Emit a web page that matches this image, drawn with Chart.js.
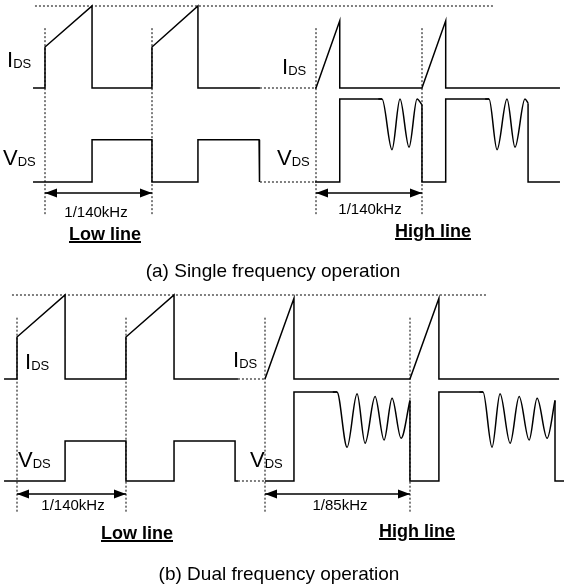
<!DOCTYPE html>
<html>
<head>
<meta charset="utf-8">
<script src="https://cdn.jsdelivr.net/npm/chart.js@4.4.0/dist/chart.umd.min.js"></script>
<style>
  body { margin: 0; background: #fff; }
  #wrap { position: relative; width: 564px; height: 584px; font-family: 'Liberation Sans', Arial, sans-serif; color: #000; }
  #wrap canvas { position: absolute; left: 0; top: 0; }
  .lbl { position: absolute; white-space: nowrap; }
  .lbl .sub { line-height: 0; vertical-align: -1px; }
  .ul { font-weight: bold; text-decoration: underline; text-decoration-thickness: 1.5px; }
</style>
</head>
<body>
<div id="wrap"><canvas id="wave" width="564" height="584"></canvas></div>
<script>
// ── switching periods (µs)
const T140 = 1000 / 140;
const T85  = 1000 / 85;

// ── (a) single frequency, low line  (time µs, amplitude normalised)
const aLowIdsT = [-0.8, 0, 0, 3.14, 3.14, 7.14, 7.14, 10.21, 10.21, 14.35];
const aLowIdsV = [0, 0, 0.5, 1, 0, 0, 0.5, 1, 0, 0];
const aLowVdsT = [-0.8, 3.14, 3.14, 7.14, 7.14, 10.21, 10.21, 14.29, 14.29, 14.35];
const aLowVdsV = [0, 0, 0.51, 0.51, 0, 0, 0.51, 0.51, 0, 0];
const aGapT    = [14.35, 18.0];

// ── (a) single frequency, high line
const aHighIdsT = [-0.07, 0, 1.6, 1.6, 7.14, 8.74, 8.74, 16.44];
const aHighIdsV = [0, 0, 0.82, 0, 0, 0.82, 0, 0];
const aHighVdsT = [-0.07, 1.6, 1.6, 4.45, null, 7.14, 7.14, 8.74, 8.74, 11.66, null, 14.29, 14.29, 16.44];
const aHighVdsV = [0, 0, 1, 1, null, 0.93, 0, 0, 1, 1, null, 0.95, 0, 0];
const aRing1T   = [4.2, 4.45, 5.12, 5.66, 6.27, 6.81, 7.14];
const aRing1V   = [1, 1, 0.39, 1, 0.42, 1, 0.93];
const aRing2T   = [11.4, 11.66, 12.2, 12.87, 13.41, 14.08, 14.29];
const aRing2V   = [1, 1, 0.39, 1, 0.42, 1, 0.95];

// ── (b) dual frequency, low line
const bLowIdsT = [-0.85, 0, 0, 3.15, 3.15, 7.14, 7.14, 10.29, 10.29, 14.48];
const bLowIdsV = [0, 0, 0.5, 1, 0, 0, 0.5, 1, 0, 0];
const bLowVdsT = [-0.85, 3.15, 3.15, 7.14, 7.14, 10.29, 10.29, 14.29, 14.29, 14.48];
const bLowVdsV = [0, 0, 0.45, 0.45, 0, 0, 0.45, 0.45, 0, 0];
const bGapT    = [14.48, 16.25];

// ── (b) dual frequency, high line
const bHighIdsT = [0, 2.35, 2.35, 11.76, 14.11, 14.11, 23.86];
const bHighIdsV = [0, 0.96, 0, 0, 0.96, 0, 0];
const bHighVdsT = [0, 2.35, 2.35, 5.84, null, 11.76, 11.76, 14.11, 14.11, 17.69, null, 23.53, 23.53, 24.3];
const bHighVdsV = [0, 0, 1, 1, null, 0.905, 0, 0, 1, 1, null, 0.905, 0, 0];
const bRing1T   = [5.5, 5.84, 6.66, 7.47, 8.12, 8.93, 9.66, 10.31, 11.04, 11.76];
const bRing2T   = [17.4, 17.69, 18.42, 19.07, 19.89, 20.62, 21.43, 22.08, 22.89, 23.53];
const bRingV    = [1, 1, 0.38, 0.98, 0.425, 0.95, 0.46, 0.93, 0.48, 0.905];

// ── reference lines: peak current, period markers, period arrows
const aPeakT = [-0.67, 29.97];
const bPeakT = [-0.33, 30.8];
const peakV  = [1, 1];
const aMarkV = [0.73, -1.55];
const bMarkV = [0.73, -1.6];
const aArrowV = -0.133;
const bArrowV = -0.146;

// ── layout: where each time / amplitude axis sits on the 564x584 canvas
const W = 564, H = 584;
const xPanels = {
  xaL: { origin: 45,  periodPx: 107, period: T140 },
  xaH: { origin: 316, periodPx: 106, period: T140 },
  xbL: { origin: 17,  periodPx: 109, period: T140 },
  xbH: { origin: 265, periodPx: 145, period: T85 },
};
const yPanels = {
  yaI: { base: 88,  unit: 82 },
  yaV: { base: 182, unit: 83 },
  ybI: { base: 379, unit: 84 },
  ybV: { base: 481, unit: 89 },
};

const scales = {};
Object.entries(xPanels).forEach(([id, p]) => {
  const k = p.periodPx / p.period;
  scales[id] = { type: 'linear', axis: 'x', display: false, min: -p.origin / k, max: (W - p.origin) / k };
});
Object.entries(yPanels).forEach(([id, p]) => {
  scales[id] = { type: 'linear', axis: 'y', display: false, min: -(H - p.base) / p.unit, max: p.base / p.unit };
});

const pts = (ts, vs) => ts.map((t, i) => ({ x: t, y: vs[i] }));
function trace(ts, vs, xAxisID, yAxisID, extra) {
  return Object.assign({
    data: pts(ts, vs), xAxisID, yAxisID, showLine: true, fill: false,
    borderColor: '#000', borderWidth: 1.5, pointRadius: 0, tension: 0,
    spanGaps: false, order: 1,
  }, extra || {});
}
const dotted = { borderWidth: 1, borderDash: [2, 2], order: 2 };
const curve  = { cubicInterpolationMode: 'monotone' };
const arrow  = { arrows: true, borderWidth: 1.5 };

const datasets = [
  // (a)
  trace(aLowIdsT, aLowIdsV, 'xaL', 'yaI'),
  trace(aLowVdsT, aLowVdsV, 'xaL', 'yaV'),
  trace(aGapT, [0, 0], 'xaL', 'yaI', dotted),
  trace(aGapT, [0, 0], 'xaL', 'yaV', dotted),
  trace(aHighIdsT, aHighIdsV, 'xaH', 'yaI'),
  trace(aHighVdsT, aHighVdsV, 'xaH', 'yaV'),
  trace(aRing1T, aRing1V, 'xaH', 'yaV', curve),
  trace(aRing2T, aRing2V, 'xaH', 'yaV', curve),
  trace(aPeakT, peakV, 'xaL', 'yaI', dotted),
  trace([0, 0], aMarkV, 'xaL', 'yaI', dotted),
  trace([T140, T140], aMarkV, 'xaL', 'yaI', dotted),
  trace([0, 0], aMarkV, 'xaH', 'yaI', dotted),
  trace([T140, T140], aMarkV, 'xaH', 'yaI', dotted),
  trace([0, T140], [aArrowV, aArrowV], 'xaL', 'yaV', arrow),
  trace([0, T140], [aArrowV, aArrowV], 'xaH', 'yaV', arrow),
  // (b)
  trace(bLowIdsT, bLowIdsV, 'xbL', 'ybI'),
  trace(bLowVdsT, bLowVdsV, 'xbL', 'ybV'),
  trace(bGapT, [0, 0], 'xbL', 'ybI', dotted),
  trace(bGapT, [0, 0], 'xbL', 'ybV', dotted),
  trace(bHighIdsT, bHighIdsV, 'xbH', 'ybI'),
  trace(bHighVdsT, bHighVdsV, 'xbH', 'ybV'),
  trace(bRing1T, bRingV, 'xbH', 'ybV', curve),
  trace(bRing2T, bRingV, 'xbH', 'ybV', curve),
  trace(bPeakT, peakV, 'xbL', 'ybI', dotted),
  trace([0, 0], bMarkV, 'xbL', 'ybI', dotted),
  trace([T140, T140], bMarkV, 'xbL', 'ybI', dotted),
  trace([0, 0], bMarkV, 'xbH', 'ybI', dotted),
  trace([T85, T85], bMarkV, 'xbH', 'ybI', dotted),
  trace([0, T140], [bArrowV, bArrowV], 'xbL', 'ybV', arrow),
  trace([0, T85], [bArrowV, bArrowV], 'xbH', 'ybV', arrow),
];

// ── filled arrow heads at both ends of the period arrows
function head(ctx, x, y, dir) {
  ctx.beginPath();
  ctx.moveTo(x, y);
  ctx.lineTo(x - dir * 12, y - 4.5);
  ctx.lineTo(x - dir * 12, y + 4.5);
  ctx.closePath();
  ctx.fill();
}
const arrowHeads = {
  id: 'arrowHeads',
  afterDatasetsDraw(chart) {
    const ctx = chart.ctx;
    ctx.save();
    ctx.fillStyle = '#000';
    chart.data.datasets.forEach((ds, i) => {
      if (!ds.arrows) return;
      const el = chart.getDatasetMeta(i).data;
      head(ctx, el[0].x, el[0].y, -1);
      head(ctx, el[el.length - 1].x, el[el.length - 1].y, 1);
    });
    ctx.restore();
  }
};

new Chart(document.getElementById('wave'), {
  type: 'scatter',
  data: { datasets },
  options: {
    responsive: false,
    animation: false,
    events: [],
    layout: { padding: 0 },
    plugins: { legend: { display: false }, tooltip: { enabled: false } },
    scales,
  },
  plugins: [arrowHeads],
});

// ── text labels (x = left edge, or centre when c is set; y = baseline)
const texts = [
  { s: 'I', sub: 'DS', x: 7,   y: 68,  size: 22 },
  { s: 'V', sub: 'DS', x: 3,   y: 166, size: 22 },
  { s: 'I', sub: 'DS', x: 282, y: 75,  size: 22 },
  { s: 'V', sub: 'DS', x: 277, y: 166, size: 22 },
  { s: '1/140kHz', x: 96,  y: 217, size: 15, c: true },
  { s: '1/140kHz', x: 370, y: 214, size: 15, c: true },
  { s: 'Low line',  x: 105, y: 240, size: 18, c: true, ul: true },
  { s: 'High line', x: 433, y: 237, size: 18, c: true, ul: true },
  { s: '(a) Single frequency operation', x: 273, y: 277, size: 19, c: true },
  { s: 'I', sub: 'DS', x: 25,  y: 370, size: 22 },
  { s: 'V', sub: 'DS', x: 18,  y: 468, size: 22 },
  { s: 'I', sub: 'DS', x: 233, y: 368, size: 22 },
  { s: 'V', sub: 'DS', x: 250, y: 468, size: 22 },
  { s: '1/140kHz', x: 73,  y: 510, size: 15, c: true },
  { s: '1/85kHz',  x: 340, y: 510, size: 15, c: true },
  { s: 'Low line',  x: 137, y: 539, size: 18, c: true, ul: true },
  { s: 'High line', x: 417, y: 537, size: 18, c: true, ul: true },
  { s: '(b) Dual frequency operation', x: 279, y: 580, size: 19, c: true },
];
const wrap = document.getElementById('wrap');
texts.forEach(t => {
  const el = document.createElement('div');
  el.className = 'lbl' + (t.ul ? ' ul' : '');
  el.style.fontSize = t.size + 'px';
  el.style.lineHeight = t.size + 'px';
  el.style.left = t.x + 'px';
  el.style.top = (t.y - 0.8465 * t.size) + 'px';
  if (t.c) el.style.transform = 'translateX(-50%)';
  el.appendChild(document.createTextNode(t.s));
  if (t.sub) {
    const s = document.createElement('span');
    s.className = 'sub';
    s.style.fontSize = '13px';
    s.textContent = t.sub;
    el.appendChild(s);
  }
  wrap.appendChild(el);
});
</script>
</body>
</html>
